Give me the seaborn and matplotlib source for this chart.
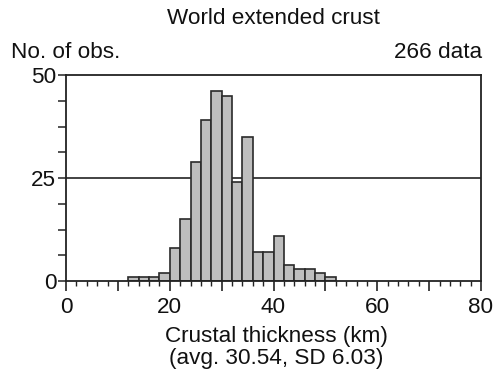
import numpy as np
import pandas as pd
import matplotlib
matplotlib.use("Agg")
import matplotlib.pyplot as plt
from matplotlib.ticker import MultipleLocator, FuncFormatter
import seaborn as sns

# Data (2 km bins)
bin_left = [12, 14, 16, 18, 20, 22, 24, 26, 28, 30, 32, 34, 36, 38, 40, 42, 44, 46, 48, 50]
counts = [1, 1, 1, 2, 8, 15, 29, 39, 46, 45, 24, 35, 7, 7, 11, 4, 3, 3, 2, 1]
bin_width = 2
title = "World extended crust"
ylabel = "No. of obs."
ndata_label = "266 data"
xlabel = "Crustal thickness (km)\n(avg. 30.54, SD 6.03)"
ref_level = 25

sns.set_style("ticks")
plt.rcParams["font.family"] = ["Liberation Sans", "DejaVu Sans"]

df = pd.DataFrame({"x": [b + bin_width / 2 for b in bin_left], "w": counts})
edges = [float(b) for b in bin_left] + [float(bin_left[-1] + bin_width)]

FS = 16.2
fig = plt.figure(figsize=(4.95, 3.71), dpi=100)
ax = fig.add_axes([66 / 495, 1 - 281 / 371, (481 - 66) / 495, (281 - 75) / 371])

ax.axhline(ref_level, color="#222222", lw=1.2, zorder=0.5)
sns.histplot(data=df, x="x", weights="w", bins=edges, ax=ax,
             color="#bebebe", edgecolor="#2a2a2a", linewidth=1.2, alpha=1, zorder=2)

ax.set_xlim(0, 80)
ax.set_ylim(0, 50)
ax.xaxis.set_major_locator(MultipleLocator(10))
ax.xaxis.set_major_formatter(FuncFormatter(lambda v, p: f"{v:.0f}" if v % 20 == 0 else ""))
ax.xaxis.set_minor_locator(MultipleLocator(2))
ax.yaxis.set_major_locator(MultipleLocator(25))
ax.yaxis.set_minor_locator(MultipleLocator(6.25))
ax.tick_params(axis="x", which="major", length=7, width=1.2, color="#222222",
               labelsize=FS, labelcolor="#111111", pad=4.5)
ax.tick_params(axis="x", which="minor", length=3.5, width=1.0, color="#222222")
ax.tick_params(axis="y", which="both", length=6, width=1.1, color="#222222",
               labelsize=FS, labelcolor="#111111", pad=1)
for s in ax.spines.values():
    s.set_visible(True)
    s.set_linewidth(1.3)
    s.set_color("#222222")
ax.set_xlabel("")
ax.set_ylabel("")

fig.text(273 / 495, 1 - 18.5 / 371, title, ha="center", va="center", fontsize=FS, color="#111111")
fig.text(11 / 495, 1 - 52 / 371, ylabel, ha="left", va="center", fontsize=FS, color="#111111")
fig.text(482 / 495, 1 - 52 / 371, ndata_label, ha="right", va="center", fontsize=FS, color="#111111")
fig.text(276 / 495, 1 - 347.5 / 371, xlabel, ha="center", va="center", fontsize=FS,
         color="#111111", linespacing=1.05)

fig.savefig("out.png", dpi=100)
